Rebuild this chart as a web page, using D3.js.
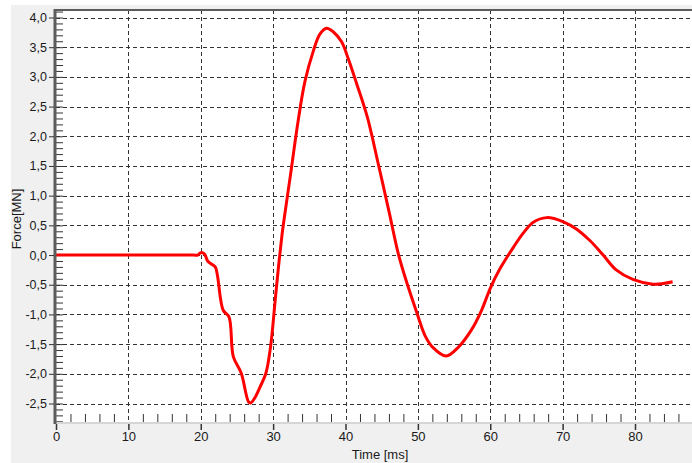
<!DOCTYPE html>
<html>
<head>
<meta charset="utf-8">
<script src="https://cdn.jsdelivr.net/npm/d3@7"></script>
<style>
  body { margin: 0; background: #fff; }
  text { font-family: "Liberation Sans", Arial, sans-serif; fill: #1a1a1a; }
</style>
</head>
<body>
<div id="chart"></div>
<script>
// values
var timeMs = [0, 5, 10, 15, 19.0, 19.6, 20.0, 20.5, 21.0, 22.0, 22.3, 23.1, 23.9, 24.5, 25.6,
  26.6, 26.9, 27.5, 28.2, 29.0, 29.65, 30.25, 30.7, 31.2, 31.5, 32.4, 33.47, 34.39, 35.54,
  36.46, 37.39, 38.3, 39.46, 40.37, 41.53, 43.0, 44.5, 46.0, 47.3, 48.3, 49.8, 51.0, 52.1,
  53.9, 55.6, 57.4, 58.8, 60.0, 61.3, 63.2, 64.5, 65.9, 67.8, 70.1, 71.9, 73.8,
  75.6, 77.4, 79.7, 82.5, 83.9, 85.2];
var forceMN = [0, 0, 0, 0, 0, 0.0, 0.04, 0.02, -0.11, -0.2, -0.34, -0.93, -1.04, -1.71, -1.99,
  -2.47, -2.49, -2.4, -2.22, -1.99, -1.54, -0.81, -0.25, 0.31, 0.59, 1.35, 2.27, 2.92, 3.43,
  3.72, 3.82, 3.76, 3.59, 3.31, 2.89, 2.33, 1.55, 0.74, 0.02, -0.40, -0.95, -1.36, -1.56,
  -1.70, -1.55, -1.26, -0.93, -0.56, -0.24, 0.13, 0.36, 0.55, 0.63, 0.56, 0.44, 0.24,
  0, -0.25, -0.41, -0.49, -0.48, -0.45];
var yTicks = [-2.5, -2.0, -1.5, -1.0, -0.5, 0.0, 0.5, 1.0, 1.5, 2.0, 2.5, 3.0, 3.5, 4.0];
var xTicks = [0, 10, 20, 30, 40, 50, 60, 70, 80];
var xLabel = "Time [ms]";
var yLabel = "Force[MN]";

var width = 692;
var height = 463;

// plot box
var plotL = 56, plotR = 705, plotT = 10, plotB = 423;

var x = d3.scaleLinear().domain([0, 80]).range([56, 635]);
var y = d3.scaleLinear().domain([-2.5, 4.0]).range([403.5, 17.5]);

var loc = d3.formatLocale({decimal: ",", thousands: ".", grouping: [3], currency: ["", ""], minus: "-"});
var fmt = loc.format(".1f");

var svg = d3.select('#chart')
  .append('svg')
  .attr('width', width)
  .attr('height', height);

svg.append('rect').attr('x', 0).attr('y', 0).attr('width', width).attr('height', height).attr('fill', '#fff');
svg.append('rect').attr('x', 11).attr('y', 5).attr('width', width - 11).attr('height', height - 5).attr('fill', '#f0f0f0');
svg.append('rect').attr('x', plotL).attr('y', plotT).attr('width', plotR - plotL).attr('height', plotB - plotT).attr('fill', '#fff');

// grid
svg.append('g').selectAll('line')
  .data(yTicks)
  .enter().append('line')
    .attr('x1', plotL).attr('x2', plotR)
    .attr('y1', function(d) { return Math.round(y(d)) + 0.5; })
    .attr('y2', function(d) { return Math.round(y(d)) + 0.5; })
    .attr('stroke', '#333').attr('stroke-dasharray', '4,3');

svg.append('g').selectAll('line')
  .data(xTicks.slice(1))
  .enter().append('line')
    .attr('x1', function(d) { return Math.round(x(d)) + 0.5; })
    .attr('x2', function(d) { return Math.round(x(d)) + 0.5; })
    .attr('y1', plotT).attr('y2', plotB)
    .attr('stroke', '#333').attr('stroke-dasharray', '4,3');

// minor ticks inside the plot
var yMinor = d3.range(-28, 42).map(function(d) { return d / 10; });
svg.append('g')
  .attr('transform', 'translate(' + plotL + ',0)')
  .call(d3.axisRight(y).tickValues(yMinor).tickSize(7).tickFormat(''))
  .call(function(g) { g.select('.domain').remove(); })
  .selectAll('line').attr('stroke', '#333');

var xMinor = d3.range(2, 90, 2).filter(function(d) { return d % 10 !== 0; });
svg.append('g')
  .attr('transform', 'translate(0,' + (plotB - 1) + ')')
  .call(d3.axisTop(x).tickValues(xMinor).tickSize(8).tickFormat(''))
  .call(function(g) { g.select('.domain').remove(); })
  .selectAll('line').attr('stroke', '#333');

// the curve
var line = d3.line()
  .x(function(d, i) { return x(timeMs[i]); })
  .y(function(d, i) { return y(forceMN[i]); })
  .curve(d3.curveCatmullRom.alpha(0.5));

svg.append('path')
  .datum(forceMN)
  .attr('d', line)
  .attr('fill', 'none')
  .attr('stroke', '#ff0000')
  .attr('stroke-width', 3)
  .attr('stroke-linejoin', 'round');

// frame lines
svg.append('line').attr('x1', plotL).attr('x2', plotR).attr('y1', plotB).attr('y2', plotB)
  .attr('stroke', '#d6d6d6').attr('stroke-width', 2);
svg.append('line').attr('x1', plotL - 2).attr('x2', plotR).attr('y1', plotT).attr('y2', plotT)
  .attr('stroke', '#5c5c5c').attr('stroke-width', 2);
svg.append('line').attr('x1', plotL - 1).attr('x2', plotL - 1).attr('y1', plotT - 1).attr('y2', plotB + 1)
  .attr('stroke', '#5c5c5c').attr('stroke-width', 3);

// y axis labels
var yAxis = svg.append('g')
  .attr('transform', 'translate(' + (plotL - 2) + ',0)')
  .call(d3.axisLeft(y).tickValues(yTicks).tickSize(5).tickPadding(2).tickFormat(fmt));
yAxis.select('.domain').remove();
yAxis.selectAll('line').attr('stroke', '#333');
yAxis.selectAll('text').style('font-size', '12.5px').attr('fill', '#1a1a1a');

// x axis labels
var xAxis = svg.append('g')
  .attr('transform', 'translate(0,' + (plotB + 1) + ')')
  .call(d3.axisBottom(x).tickValues(xTicks).tickSize(6).tickPadding(2).tickFormat(d3.format('d')));
xAxis.select('.domain').remove();
xAxis.selectAll('line').attr('stroke', '#333').attr('stroke-width', 1.5);
xAxis.selectAll('text').style('font-size', '13px').attr('fill', '#1a1a1a');

svg.append('text')
  .attr('x', 380).attr('y', 459)
  .attr('text-anchor', 'middle')
  .style('font-size', '13px')
  .text(xLabel);

svg.append('text')
  .attr('transform', 'translate(21,219) rotate(-90)')
  .attr('text-anchor', 'middle')
  .style('font-size', '13px')
  .text(yLabel);
</script>
</body>
</html>
